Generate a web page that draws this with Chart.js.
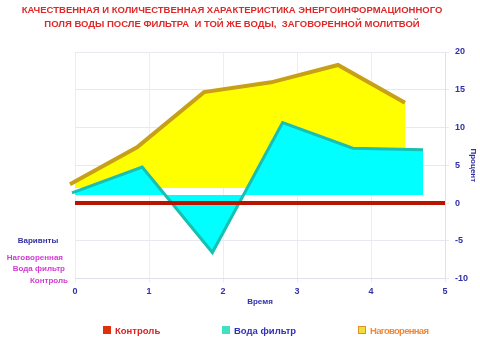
<!DOCTYPE html>
<html lang="ru">
<head>
<meta charset="UTF-8">
<title>Энергоинформационное поле воды</title>
<script src="https://cdn.jsdelivr.net/npm/chart.js"></script>
<style>
  body{margin:0;background:#fff;font-family:'Liberation Sans',Arial,sans-serif;}
  .wrap{position:relative;width:480px;height:346px;}
  .title{position:absolute;left:0;top:3px;width:464px;text-align:center;color:#e02828;font-weight:bold;font-size:9.5px;line-height:14px;}
  canvas{position:absolute;left:0;top:0;}
  .legend{position:absolute;top:324px;left:0;width:480px;height:14px;font-weight:bold;font-size:9.5px;line-height:14px;}
  .legend span{position:absolute;top:0;white-space:nowrap;}
  .legend i{display:inline-block;width:6px;height:6px;margin-right:4px;vertical-align:0;border:1px solid;}
</style>
</head>
<body>
<div class="wrap">
  <canvas id="chart" width="480" height="346"></canvas>
  <div class="title">КАЧЕСТВЕННАЯ И КОЛИЧЕСТВЕННАЯ ХАРАКТЕРИСТИКА ЭНЕРГОИНФОРМАЦИОННОГО<br>ПОЛЯ ВОДЫ ПОСЛЕ ФИЛЬТРА&nbsp; И ТОЙ ЖЕ ВОДЫ,&nbsp; ЗАГОВОРЕННОЙ МОЛИТВОЙ</div>
  <div class="legend" id="legend"></div>
</div>
<script>
// data
const timeLabels = ['0', '1', '2', '3', '4', '5'];
const seriesNames = ['Контроль', 'Вода фильтр', 'Наговоренная'];
const control = [0, 0, 0, 0, 0, 0];
const filterWater = [0.3, 3.7, -7.6, 9.6, 6.2, 6.0];
const prayed = [0.5, 5.4, 12.7, 14.0, 16.3, 11.3];
const variantLabels = ['Наговоренная', 'Вода фильтр', 'Контроль'];
const percentMin = -10, percentMax = 20, percentStep = 5;

// fake 3d depth: back series get their own scales, shifted up/left
const depthShift = [null, {left: -3, right: -22, dy: -8}, {left: -5, right: -40, dy: -15}];

const blue = '#3030a8';
const magenta = '#d23cd2';

// legend as html, one colour per item
const legendBox = ['#e03010', '#40e0c0', '#f0e030'];
const legendEdge = ['#e03010', '#40e0c0', '#e09030'];
const legendText = ['#e02020', '#3030b8', '#f08a3a'];
const legendLeft = [103, 222, 358];
const legendSpacing = [0, 0, -0.7];
document.getElementById('legend').innerHTML = seriesNames.map((n, i) =>
    `<span style="left:${legendLeft[i]}px;color:${legendText[i]};letter-spacing:${legendSpacing[i]}px"><i style="background:${legendBox[i]};border-color:${legendEdge[i]}"></i>${n}</span>`
).join('');

const depthPlugin = {
    id: 'depth',
    afterLayout(chart) {
        const area = chart.chartArea;
        depthShift.forEach((d, i) => {
            if (!d) return;
            const xs = chart.scales['x' + i], ys = chart.scales['y' + i];
            xs.left = area.left + d.left; xs.right = area.right + d.right; xs.width = xs.right - xs.left;
            xs.configure();
            ys.top = area.top + d.dy; ys.bottom = area.bottom + d.dy; ys.height = ys.bottom - ys.top;
            ys.configure();
        });
    },
    afterDraw(chart) {
        const ctx = chart.ctx;
        ctx.save();
        ctx.font = 'bold 8px "Liberation Sans", Arial, sans-serif';
        ctx.textBaseline = 'middle';
        ctx.fillStyle = blue;
        ctx.textAlign = 'center';
        ctx.fillText('Варивнты', 38, 241);
        ctx.fillStyle = magenta;
        ctx.textAlign = 'right';
        const rows = [[63, 258], [65, 269], [68, 281]];
        variantLabels.forEach((t, i) => ctx.fillText(t, rows[i][0], rows[i][1]));
        ctx.restore();
    }
};

const hiddenX = {type: 'category', labels: timeLabels, offset: false, display: false};
const hiddenY = {type: 'linear', min: percentMin, max: percentMax, display: false, position: 'right'};

new Chart(document.getElementById('chart'), {
    type: 'line',
    data: {
        labels: timeLabels,
        datasets: [
            { label: seriesNames[0], data: control, xAxisID: 'x', yAxisID: 'y', borderColor: '#b81400', borderWidth: 4, pointRadius: 0, fill: false, clip: false },
            { label: seriesNames[1], data: filterWater, xAxisID: 'x1', yAxisID: 'y1', backgroundColor: '#00ffff', borderColor: '#18c0b0', borderWidth: 3, pointRadius: 0, fill: 'origin', clip: false },
            { label: seriesNames[2], data: prayed, xAxisID: 'x2', yAxisID: 'y2', backgroundColor: '#ffff00', borderColor: '#c8a018', borderWidth: 4, pointRadius: 0, fill: 'origin', clip: false }
        ]
    },
    options: {
        responsive: false,
        animation: false,
        devicePixelRatio: 1,
        layout: { padding: { left: 48, top: 52, right: 0, bottom: 39 } },
        plugins: {
            title: { display: false },
            tooltip: { enabled: false },
            legend: { display: false }
        },
        scales: {
            pad: {
                type: 'linear', position: 'left', display: true,
                grid: { display: false }, border: { display: false }, ticks: { display: false },
                afterFit: (s) => { s.width = 27; }
            },
            x: {
                type: 'category', offset: false,
                grid: { color: '#ececf2', tickLength: 4 },
                border: { color: '#e0e0e8' },
                ticks: { color: blue, padding: 4, font: { family: "'Liberation Sans', Arial, sans-serif", size: 9, weight: 'bold' }, maxRotation: 0 },
                title: { display: true, text: 'Время', color: blue, padding: { top: -4, bottom: 0 }, font: { family: "'Liberation Sans', Arial, sans-serif", size: 8, weight: 'bold' } }
            },
            y: {
                type: 'linear', position: 'right', min: percentMin, max: percentMax,
                grid: { color: '#e8e8f0', tickLength: 4 },
                border: { color: '#e0e0e8' },
                ticks: { stepSize: percentStep, color: blue, padding: 6, font: { family: "'Liberation Sans', Arial, sans-serif", size: 9, weight: 'bold' } },
                title: { display: true, text: 'Процент', color: blue, padding: 2, font: { family: "'Liberation Sans', Arial, sans-serif", size: 8, weight: 'bold' } },
                afterFit: (s) => { s.width = 35; }
            },
            x1: hiddenX, y1: hiddenY,
            x2: hiddenX, y2: hiddenY
        }
    },
    plugins: [depthPlugin]
});
</script>
</body>
</html>
